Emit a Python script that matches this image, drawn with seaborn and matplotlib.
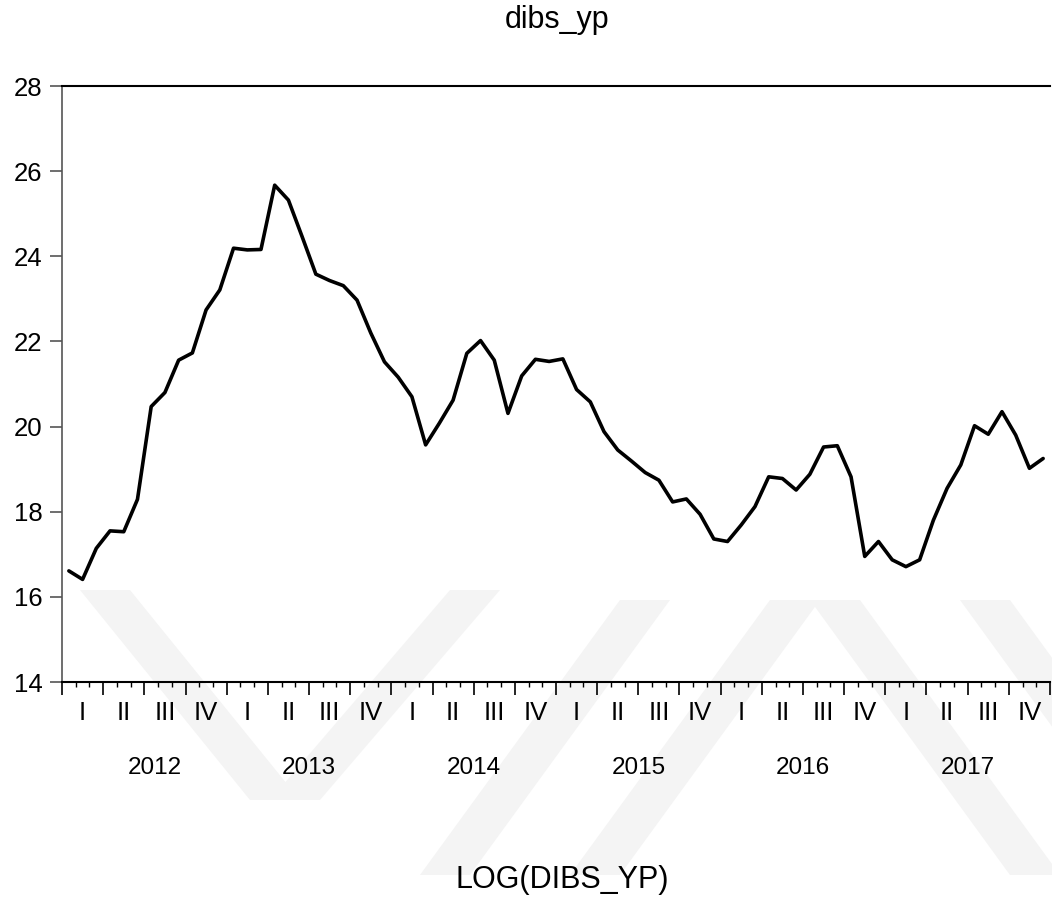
import numpy as np
import pandas as pd
import matplotlib
matplotlib.use("Agg")
import matplotlib.pyplot as plt
from matplotlib.patches import Polygon
import matplotlib.transforms as mtransforms
import seaborn as sns

# Monthly series, 2012M01 .. 2017M12
years = [2012, 2013, 2014, 2015, 2016, 2017]
quarters = ["I", "II", "III", "IV"]
values = [
    16.61, 16.41, 17.14, 17.55, 17.53, 18.29, 20.47, 20.80, 21.56, 21.73, 22.74, 23.21,
    24.19, 24.15, 24.16, 25.67, 25.32, 24.46, 23.58, 23.43, 23.31, 22.97, 22.20, 21.52,
    21.16, 20.70, 19.57, 20.08, 20.62, 21.72, 22.02, 21.56, 20.31, 21.19, 21.58, 21.53,
    21.59, 20.87, 20.58, 19.88, 19.45, 19.19, 18.92, 18.74, 18.23, 18.30, 17.94, 17.36,
    17.30, 17.69, 18.12, 18.82, 18.78, 18.51, 18.88, 19.52, 19.55, 18.82, 16.95, 17.30,
    16.87, 16.71, 16.87, 17.80, 18.55, 19.10, 20.02, 19.82, 20.35, 19.80, 19.02, 19.25,
]
series_name = "dibs_yp"
axis_title = "LOG(DIBS_YP)"
y_ticks = [14, 16, 18, 20, 22, 24, 26, 28]

df = pd.DataFrame({"month": np.arange(len(values)), "value": values})

sns.set_theme(style="white")
plt.rcParams["font.family"] = ["Liberation Sans", "DejaVu Sans"]
plt.rcParams["text.color"] = "black"

W, H = 1052, 911
fig = plt.figure(figsize=(W / 100, H / 100), dpi=100)
fig.patch.set_facecolor("white")

# faint diagonal watermark bands behind the chart
wm_color = "#f4f4f4"
def band(x_top, y_top, x_bot, y_bot, width):
    pts = [(x_top, y_top), (x_top + width, y_top), (x_bot + width, y_bot), (x_bot, y_bot)]
    pts = [(px / W, 1 - py / H) for px, py in pts]
    fig.patches.append(Polygon(pts, closed=True, transform=fig.transFigure,
                               facecolor=wm_color, edgecolor="none", zorder=-5))
band(80, 590, 250, 800, 50)
band(450, 590, 270, 800, 50)
band(620, 600, 420, 875, 50)
band(770, 600, 570, 875, 50)
band(810, 600, 1010, 875, 50)
band(960, 600, 1160, 875, 50)

ax = fig.add_axes([62 / W, 1 - 682 / H, (1050 - 62) / W, (682 - 86) / H])
ax.set_facecolor("none")
ax.set_zorder(2)

sns.lineplot(data=df, x="month", y="value", ax=ax, color="black", linewidth=2.6,
             legend=False)

n = len(values)
ax.set_xlim(-0.5, n - 0.5)
ax.set_ylim(14, 28)
ax.set_yticks(y_ticks)
ax.set_yticklabels([str(t) for t in y_ticks], fontsize=18.5, color="black")
ax.tick_params(axis="y", direction="out", length=9, width=1.2, color="#555555",
               pad=5, left=True, labelcolor="black")

# month ticks (short) and quarter ticks (long) along the bottom
ax.set_xticks(np.arange(-0.5, n, 3))
ax.set_xticks(np.arange(-0.5, n, 1), minor=True)
ax.set_xticklabels([])
ax.tick_params(axis="x", which="major", direction="out", length=9, width=1.2,
               color="black", bottom=True)
ax.tick_params(axis="x", which="minor", direction="out", length=3.8, width=1.0,
               color="black", bottom=True)

for side in ["left", "top", "bottom"]:
    ax.spines[side].set_visible(True)
ax.spines["right"].set_visible(False)
ax.spines["left"].set_color("#555555")
ax.spines["left"].set_linewidth(1.2)
ax.spines["top"].set_color("black")
ax.spines["top"].set_linewidth(1.5)
ax.spines["bottom"].set_color("black")
ax.spines["bottom"].set_linewidth(1.5)

ax.set_xlabel("")
ax.set_ylabel("")

trans = mtransforms.blended_transform_factory(ax.transData, fig.transFigure)
q_y = 1 - 713 / H
yr_y = 1 - 768 / H
for yi, yr in enumerate(years):
    for qi, q in enumerate(quarters):
        xc = yi * 12 + qi * 3 + 1
        ax.text(xc, q_y, q, transform=trans, ha="center", va="center", fontsize=18.5,
                color="black")
    xc_year = yi * 12 + 5.5 + (0.8 if yi == 0 else 0.0)
    ax.text(xc_year, yr_y, str(yr), transform=trans, ha="center", va="center",
            fontsize=17.5, color="black")

fig.text(557 / W, 1 - 20 / H, series_name, ha="center", va="center",
         fontsize=22, color="black")
fig.text(562 / W, 1 - 880 / H, axis_title, ha="center", va="center",
         fontsize=22, color="black")

fig.savefig("out.png", dpi=100, facecolor="white")
